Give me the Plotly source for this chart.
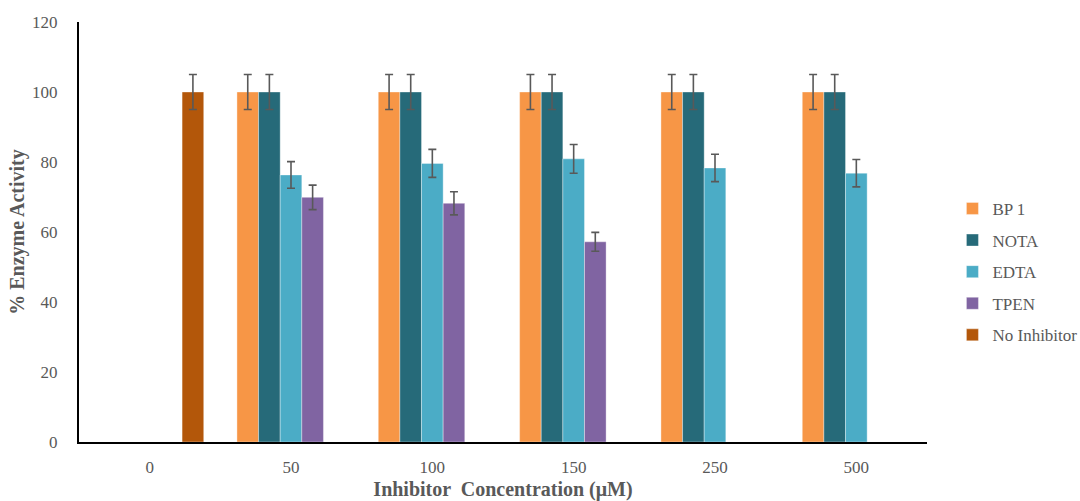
import plotly.graph_objects as go

# Inhibitor concentrations (µM) shown as categories
concentrations = ["0", "50", "100", "150", "250", "500"]

# % enzyme activity for each inhibitor (None where not measured)
bp1_activity = [None, 100, 100, 100, 100, 100]
bp1_error = [0, 5.0, 5.0, 5.0, 5.0, 5.0]

nota_activity = [None, 100, 100, 100, 100, 100]
nota_error = [0, 5.0, 5.0, 5.0, 5.0, 5.0]

edta_activity = [None, 76.3, 79.6, 80.9, 78.3, 76.8]
edta_error = [0, 3.8, 4.0, 4.1, 3.9, 3.9]

tpen_activity = [None, 69.9, 68.2, 57.2, None, None]
tpen_error = [0, 3.5, 3.3, 2.7, 0, 0]

no_inhibitor_activity = [100, None, None, None, None, None]
no_inhibitor_error = [5.0, 0, 0, 0, 0, 0]

series = [
    ("BP 1", bp1_activity, bp1_error, "#F79646"),
    ("NOTA", nota_activity, nota_error, "#266A79"),
    ("EDTA", edta_activity, edta_error, "#4BACC6"),
    ("TPEN", tpen_activity, tpen_error, "#8064A2"),
    ("No Inhibitor", no_inhibitor_activity, no_inhibitor_error, "#B3570A"),
]

serif = "Liberation Serif"
grey = "#595959"

fig = go.Figure()
for name, values, errors, color in series:
    fig.add_trace(go.Bar(
        name=name,
        x=concentrations,
        y=values,
        legendgroup=name,
        marker=dict(color=color, line=dict(color="rgba(255,255,255,0.6)", width=0.6)),
        error_y=dict(type="data", array=errors, visible=True,
                     color=grey, thickness=1.6, width=4),
    ))

fig.update_layout(
    width=1080,
    height=501,
    margin=dict(l=79, r=153, t=22, b=59, autoexpand=False),
    paper_bgcolor="white",
    plot_bgcolor="white",
    barmode="group",
    bargap=0.235,
    bargroupgap=0,
    font=dict(family=serif, color=grey, size=17),
    legend=dict(
        x=1.03, y=0.405, xanchor="left", yanchor="middle",
        font=dict(family=serif, size=17, color=grey),
        itemwidth=30,
        tracegroupgap=6.5,
        traceorder="grouped",
        bgcolor="rgba(0,0,0,0)",
    ),
    xaxis=dict(
        type="category",
        categoryorder="array",
        categoryarray=concentrations,
        showline=True, linecolor="black", linewidth=2,
        ticks="", showgrid=False, zeroline=False,
        tickfont=dict(family=serif, size=17, color=grey),
        ticklabelstandoff=9,
        title=dict(text="<b>Inhibitor  Concentration (μM)</b>",
                   font=dict(family=serif, size=20, color=grey), standoff=10),
    ),
    yaxis=dict(
        range=[0, 120],
        tickvals=[0, 20, 40, 60, 80, 100, 120],
        showline=True, linecolor="black", linewidth=2,
        ticks="", showgrid=False, zeroline=False,
        tickfont=dict(family=serif, size=17, color=grey),
        ticklabelstandoff=16,
        title=dict(text="<b>% Enzyme Activity</b>",
                   font=dict(family=serif, size=20, color=grey), standoff=2),
    ),
)

fig.write_html("out.html")
